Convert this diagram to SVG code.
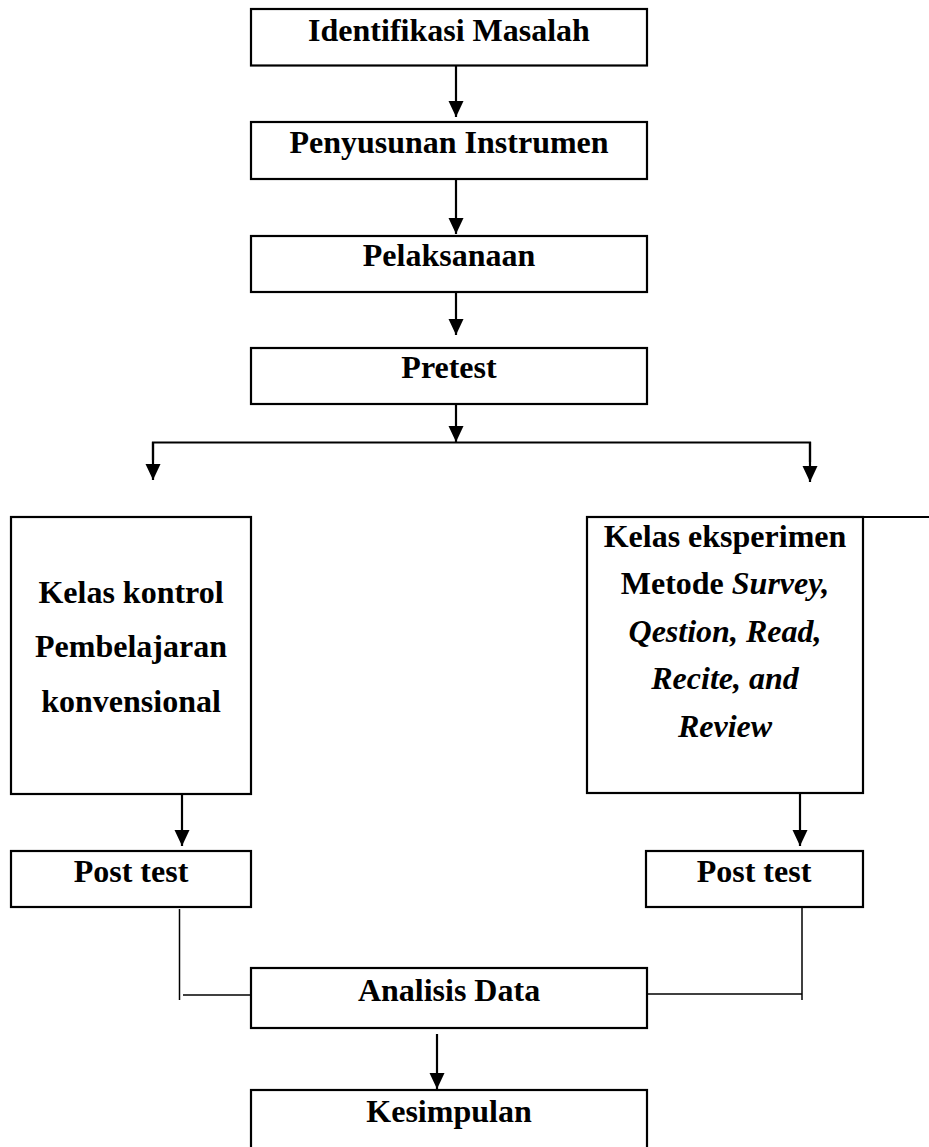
<svg xmlns="http://www.w3.org/2000/svg" width="929" height="1147" viewBox="0 0 929 1147">
<style>
.box{fill:#fff;stroke:#000;stroke-width:2.2}
.t{font-family:"Liberation Serif","Times New Roman",serif;font-weight:bold;font-size:32px;fill:#000;text-anchor:middle}
.i{font-style:italic}
.arr{stroke:#000;stroke-width:2.2;fill:none;marker-end:url(#ah)}
.ln{stroke:#000;stroke-width:2.2;fill:none}
.thin{stroke:#000;stroke-width:1.5;fill:none}
</style>
<defs>
<marker id="ah" markerUnits="userSpaceOnUse" markerWidth="16" markerHeight="16" viewBox="0 0 16 16" refX="16" refY="8" orient="auto">
<path d="M0,0.5 L16,8 L0,15.5 z" fill="#000"/>
</marker>
</defs>
<rect width="929" height="1147" fill="#fff"/>
<g id="connectors">
<line class="arr" x1="456" y1="63" x2="456" y2="117"/>
<line class="arr" x1="456" y1="180" x2="456" y2="234"/>
<line class="arr" x1="456" y1="281" x2="456" y2="335"/>
<line class="arr" x1="456" y1="403" x2="456" y2="442"/>
<polyline class="ln" points="153,460 153,442.5 810,442.5 810,462"/>
<line class="arr" x1="153" y1="442" x2="153" y2="480"/>
<line class="arr" x1="810" y1="442" x2="810" y2="482"/>
<line class="ln" x1="863" y1="517" x2="929" y2="517"/>
<line class="arr" x1="182" y1="794" x2="182" y2="846"/>
<line class="arr" x1="800" y1="791" x2="800" y2="846"/>
<line class="thin" x1="179.5" y1="909" x2="179.5" y2="1000"/>
<line class="thin" x1="183" y1="995" x2="327" y2="995"/>
<line class="thin" x1="647" y1="994" x2="802" y2="994"/>
<line class="thin" x1="802" y1="907" x2="802" y2="1000"/>
<line class="arr" x1="437" y1="1034" x2="437" y2="1089"/>
</g>
<g id="n1">
<rect class="box" x="251" y="9" width="396" height="56.5"/>
<text class="t" x="449" y="41">Identifikasi Masalah</text>
</g>
<g id="n2">
<rect class="box" x="251" y="122" width="396" height="57"/>
<text class="t" x="449" y="153">Penyusunan Instrumen</text>
</g>
<g id="n3">
<rect class="box" x="251" y="236" width="396" height="56"/>
<text class="t" x="449" y="266">Pelaksanaan</text>
</g>
<g id="n4">
<rect class="box" x="251" y="348" width="396" height="56"/>
<text class="t" x="449" y="378">Pretest</text>
</g>
<g id="n5">
<rect class="box" x="11" y="517" width="240" height="277"/>
<text class="t" x="131" y="603">Kelas kontrol</text>
<text class="t" x="131" y="657">Pembelajaran</text>
<text class="t" x="131" y="712">konvensional</text>
</g>
<g id="n6">
<rect class="box" x="587" y="517" width="276" height="276"/>
<text class="t" x="725" y="547">Kelas eksperimen</text>
<text class="t" x="725" y="594">Metode <tspan class="i">Survey,</tspan></text>
<text class="t i" x="725" y="642">Qestion, Read,</text>
<text class="t i" x="725" y="689">Recite, and</text>
<text class="t i" x="725" y="737">Review</text>
</g>
<g id="n7">
<rect class="box" x="11" y="851" width="240" height="56"/>
<text class="t" x="131" y="882">Post test</text>
</g>
<g id="n8">
<rect class="box" x="646" y="851" width="217" height="56"/>
<text class="t" x="754" y="882">Post test</text>
</g>
<g id="n9">
<rect class="box" x="251" y="968" width="396" height="60"/>
<text class="t" x="449" y="1001">Analisis Data</text>
</g>
<g id="n10">
<rect class="box" x="251" y="1090" width="396" height="60"/>
<text class="t" x="449" y="1122">Kesimpulan</text>
</g>
</svg>
